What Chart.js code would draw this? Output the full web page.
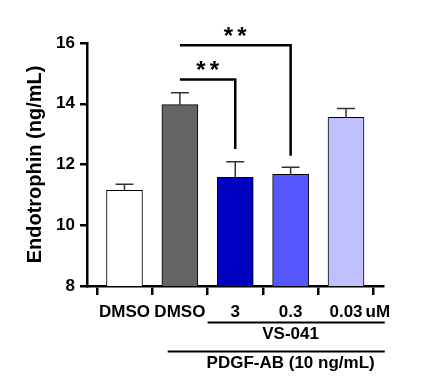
<!DOCTYPE html>
<html><head><meta charset="utf-8">
<script src="https://cdn.jsdelivr.net/npm/chart.js@4"></script>
<style>html,body{margin:0;padding:0;background:#fff}canvas{display:block}</style>
</head><body>
<canvas id="c" width="437" height="390"></canvas>
<script>
// ---- data ----
const categories = ['DMSO', 'DMSO', '3', '0.3', '0.03'];
const endotrophin = [11.15, 13.97, 11.58, 11.68, 13.55];
const errorSEM = [0.20, 0.39, 0.51, 0.23, 0.29];
const yTicks = [8, 10, 12, 14, 16];
const unitLabel = 'uM';
const yTitle = 'Endotrophin (ng/mL)';
// significance comparisons: category indices, bracket level and drop end (ng/mL)
const compFrom = [1, 1];
const compTo = [2, 3];
const compLevel = [14.80, 15.93];
const compDrop = [12.51, 12.29];
const compLabel = ['**', '**'];
// treatment groups under the axis, spans in category units
const groupLabel = ['VS-041', 'PDGF-AB (10 ng/mL)'];
const groupStart = [1.5, 0.78];
const groupEnd = [4.7, 4.7];
const groupCenter = [3, 3];
// ---- styles ----
const barColors = ['#FFFFFF', '#646464', '#0000C0', '#5757FF', '#C0C0FF'];
const FONT = 'Arial, "Liberation Sans", sans-serif';

const annot = {
  id: 'annot',
  afterDatasetsDraw(chart) {
    const {ctx, scales: {x, y}} = chart;
    ctx.save();
    ctx.strokeStyle = '#333';
    ctx.lineWidth = 1.5;
    endotrophin.forEach((v, i) => {
      const px = x.getPixelForValue(i);
      const t = y.getPixelForValue(v);
      const e = y.getPixelForValue(v + errorSEM[i]);
      ctx.beginPath();
      ctx.moveTo(px, t); ctx.lineTo(px, e);
      ctx.moveTo(px - 9, e); ctx.lineTo(px + 9, e);
      ctx.stroke();
    });
    ctx.restore();
  },
  afterDraw(chart) {
    const {ctx, scales: {x, y}} = chart;
    ctx.save();
    // brackets
    ctx.strokeStyle = '#000';
    ctx.lineWidth = 2.5;
    ctx.lineCap = 'butt';
    compFrom.forEach((f, k) => {
      const x1 = x.getPixelForValue(f), x2 = x.getPixelForValue(compTo[k]);
      const yl = y.getPixelForValue(compLevel[k]), yd = y.getPixelForValue(compDrop[k]);
      ctx.beginPath();
      ctx.moveTo(x1, yl); ctx.lineTo(x2, yl); ctx.lineTo(x2, yd);
      ctx.stroke();
      // stars
      ctx.fillStyle = '#000';
      ctx.font = 'bold 24px ' + FONT;
      ctx.textAlign = 'center';
      ctx.textBaseline = 'alphabetic';
      const m = ctx.measureText('*');
      const cy = yl - 14;
      const base = cy + (m.actualBoundingBoxAscent - m.actualBoundingBoxDescent) / 2;
      const cx = (x1 + x2) / 2;
      const n = compLabel[k].length;
      for (let s = 0; s < n; s++) {
        ctx.fillText('*', cx + (s - (n - 1) / 2) * 13.5, base);
      }
    });
    // unit label after last tick
    const axisY = y.getPixelForValue(yTicks[0]);
    ctx.font = 'bold 17px ' + FONT;
    ctx.textAlign = 'left';
    ctx.textBaseline = 'middle';
    ctx.fillStyle = '#000';
    const lastX = x.getPixelForValue(categories.length - 1);
    ctx.fillText(unitLabel, lastX + ctx.measureText(categories[categories.length - 1]).width / 2 + 3, axisY + 26);
    // group lines and labels
    ctx.lineWidth = 2;
    const rowY = [axisY + 36.5, axisY + 65.5];
    groupLabel.forEach((lab, k) => {
      const gx1 = x.getPixelForValue(groupStart[k]);
      const gx2 = x.getPixelForValue(groupEnd[k]);
      ctx.beginPath();
      ctx.moveTo(gx1, rowY[k]); ctx.lineTo(gx2, rowY[k]);
      ctx.stroke();
      ctx.textAlign = 'center';
      ctx.fillText(lab, x.getPixelForValue(groupCenter[k]), rowY[k] + 11.5);
    });
    ctx.restore();
  }
};

new Chart(document.getElementById('c'), {
  type: 'bar',
  data: {
    datasets: [{
      data: endotrophin.map((v, i) => ({x: i, y: v})),
      backgroundColor: barColors,
      borderColor: '#000',
      borderWidth: 1,
      barThickness: 36
    }]
  },
  options: {
    responsive: false,
    animation: false,
    layout: {padding: {left: 0, top: 43, right: 53.5, bottom: 0}},
    plugins: {legend: {display: false}, tooltip: {enabled: false}},
    scales: {
      x: {
        type: 'linear',
        offset: false,
        min: -0.677,
        max: 4.677,
        afterFit(s) { s.height = 104; },
        afterBuildTicks(s) { s.ticks = categories.map((_, i) => ({value: i})); },
        grid: {drawOnChartArea: false, tickLength: 9, color: '#000', lineWidth: 2.5},
        border: {display: true, color: '#000', width: 2.5},
        ticks: {
          autoSkip: false, maxRotation: 0, padding: 7,
          color: '#000',
          font: {family: FONT, size: 17, weight: 'bold'},
          callback: (v) => categories[v]
        }
      },
      y: {
        min: 8,
        max: 16,
        afterFit(s) { s.width = 87; },
        afterBuildTicks(s) { s.ticks = yTicks.map(v => ({value: v})); },
        grid: {drawOnChartArea: false, tickLength: 7, color: '#000', lineWidth: 2.5},
        border: {display: true, color: '#000', width: 2.5},
        ticks: {
          padding: 5, color: '#000',
          font: {family: FONT, size: 17, weight: 'bold'}
        },
        title: {
          display: true, text: yTitle, color: '#000',
          font: {family: FONT, size: 20, weight: 'bold', lineHeight: 1.2},
          padding: {top: 23, bottom: 0}
        }
      }
    }
  },
  plugins: [annot]
});
</script>
</body></html>
